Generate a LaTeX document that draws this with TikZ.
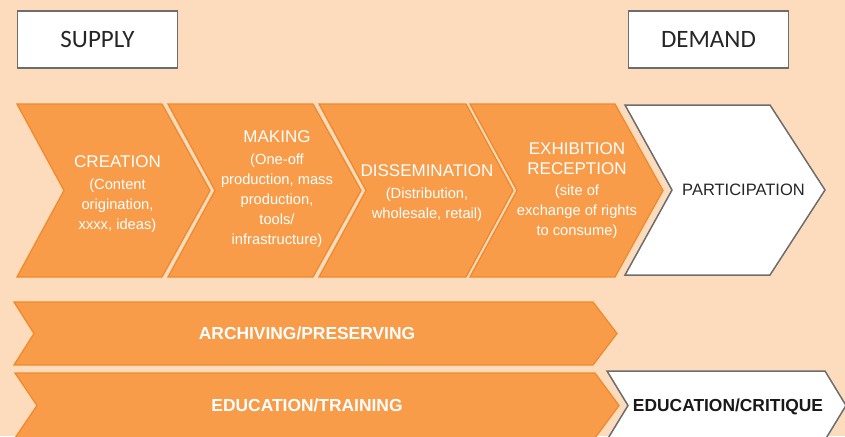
\documentclass[tikz,border=0pt]{standalone}
\usepackage{fontspec}
\setmainfont{Liberation Sans}
\newfontfamily\carl{Carlito}
\definecolor{bg}{HTML}{FDDCBD}
\definecolor{orfill}{HTML}{F89C4A}
\definecolor{oredge}{HTML}{F08A2C}
\definecolor{gedge}{HTML}{6D6D6D}
\newcommand\chv[7]{\path[#1] (#2,#6) -- (#4,#6) -- (#5,{(#6+#7)/2}) -- (#4,#7) -- (#2,#7) -- (#3,{(#6+#7)/2}) -- cycle;}
\tikzset{
  orch/.style={fill=orfill, draw=oredge, line width=1.3pt, line join=miter},
  wch/.style={fill=white, draw=gedge, line width=1.5pt, line join=miter},
  lbl/.style={text=white, align=center, inner sep=0pt, font=\fontsize{14.7}{20}\selectfont},
  bar/.style={text=white, inner sep=0pt, font=\bfseries\fontsize{17.4}{20}\selectfont},
  topbox/.style={fill=white, draw=gedge, line width=1.3pt, inner sep=0pt, font=\carl\fontsize{25}{30}\selectfont, text=black!85}
}
\begin{document}
\begin{tikzpicture}[x=1pt,y=-1pt]
\fill[bg] (0,0) rectangle (845,436);
\useasboundingbox (0,0) rectangle (845,436);
% top boxes
\node[topbox, minimum width=160pt, minimum height=57pt] (supply) at (97.5,39.5) {SUPPLY};
\node[topbox, minimum width=160pt, minimum height=57pt] (demand) at (708.5,39.5) {DEMAND};
% chevrons
\chv{orch}{17}{64}{162}{210}{104}{277}
\chv{orch}{168}{215}{313}{361}{104}{277}
\chv{orch}{319}{366}{466}{513}{104}{277}
\chv{orch}{470}{517}{615}{663}{104}{277}
\chv{wch}{625}{672}{770}{825}{105}{275}
\node[lbl] (creation) at (117.5,194) {{\fontsize{17}{20}\selectfont CREATION}\\[2pt](Content\\origination,\\xxxx, ideas)};
\node[lbl] (making) at (277,189.5) {{\fontsize{17}{20}\selectfont MAKING}\\[2pt](One-off\\production, mass\\production,\\tools/\\infrastructure)};
\node[lbl] (dissem) at (427,193) {{\fontsize{17}{20}\selectfont DISSEMINATION}\\[2pt](Distribution,\\wholesale, retail)};
\node[lbl] (exhib) at (577,191) {{\fontsize{17}{20}\selectfont EXHIBITION}\\{\fontsize{17}{20}\selectfont RECEPTION}\\[1pt](site of\\exchange of rights\\to consume)};
\node[lbl, text=black!85, font=\fontsize{16.5}{20}\selectfont] (partic) at (743.5,190) {PARTICIPATION};
% bars
\chv{orch}{14}{34}{593}{617}{302}{365}
\chv{orch}{15}{37}{595}{619}{373}{438}
\chv{wch}{607}{628}{825}{846}{371}{440}
\node[bar] (arch) at (307,333.5) {ARCHIVING/PRESERVING};
\node[bar] (edtr) at (307,405) {EDUCATION/TRAINING};
\node[bar, text=black!90] (edcr) at (728,407) {EDUCATION/CRITIQUE};
\end{tikzpicture}
\end{document}
